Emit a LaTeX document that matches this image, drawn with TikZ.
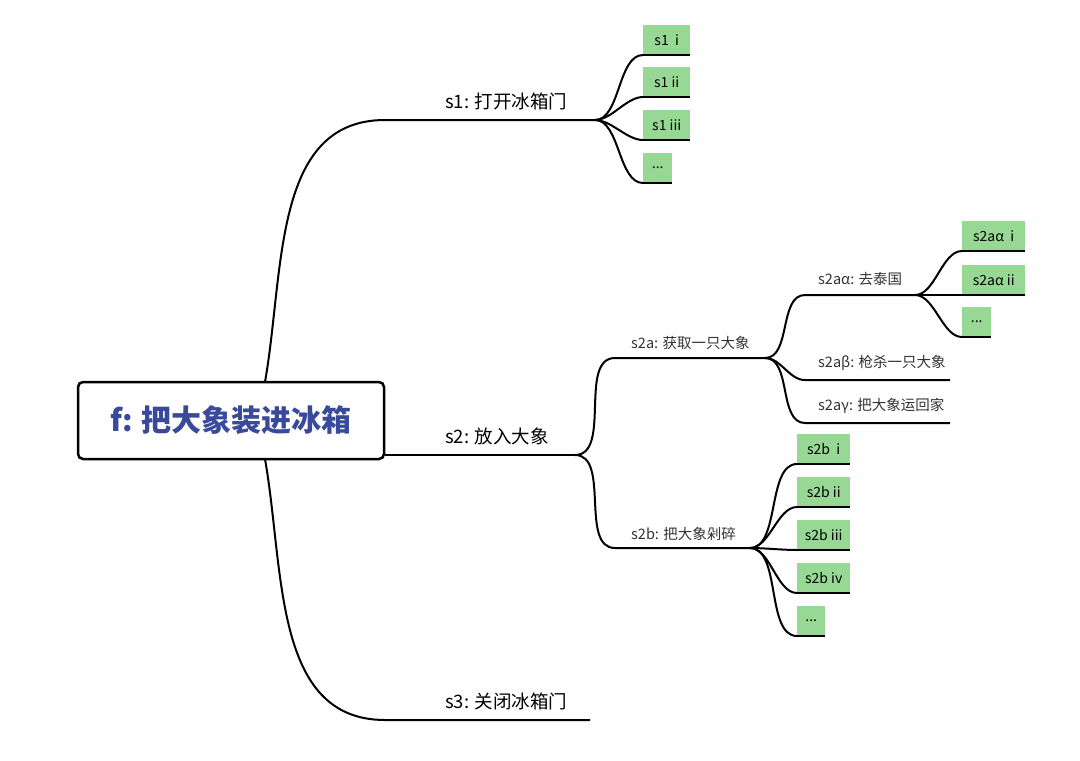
\documentclass[tikz,border=0pt]{standalone}
\usepackage{fontspec}
\setmainfont{Noto Sans CJK SC}
\newcommand{\mydots}{...}
\begin{document}
\begin{tikzpicture}[x=1pt,y=-1pt,
  ln/.style={line width=2pt,black},
  ed/.style={ln,out=0,in=180,looseness=0.9},
  lbl/.style={anchor=south west,inner sep=2pt,font=\fontsize{18.5}{18.5}\selectfont},
  sl/.style={anchor=south west,inner sep=2pt,font=\fontsize{14.5}{14.5}\selectfont,text=black!80},
  leaf/.style={anchor=south west,fill=lf,minimum height=30pt,inner sep=0pt,font=\fontsize{14}{14}\selectfont}]
\definecolor{lf}{HTML}{98D895}
\definecolor{rb}{HTML}{3A4A9A}
\useasboundingbox (0,0) rectangle (1080,761);
\node[draw,line width=2.5pt,rounded corners=5pt,minimum width=306pt,minimum height=77pt,text=rb,font=\fontsize{30}{30}\bfseries\selectfont] (f) at (231,420.5) {f: 把大象装进冰箱};
% level 1
\coordinate (s1a) at (385,120); \coordinate (s1e) at (595,120);
\coordinate (s2e) at (575,455);
\coordinate (s3a) at (385,720); \coordinate (s3e) at (590,720);
\draw[ln] (265,382) to[out=80,in=180] (s1a) -- (s1e);
\draw[ln] (f.east |- s2e) -- (s2e);
\draw[ln] (265,459) to[out=-80,in=180] (s3a) -- (s3e);
\node[lbl] (l1) at (443,112) {s1: 打开冰箱门};
\node[lbl] (l2) at (443,447) {s2: 放入大象};
\node[lbl] (l3) at (443,712) {s3: 关闭冰箱门};
% s1 leaves
\foreach \y/\t/\w [count=\i] in {55/s1 \ i/47,97/s1 ii/47,140/s1 iii/47,183/\mydots/29}{
  \node[leaf,minimum width=\w pt] (s1l\i) at (643,\y) {\t};
  \draw[ed,looseness=0.8] (s1e) to (s1l\i.south west);
  \draw[ln] (s1l\i.south west) -- (s1l\i.south east);
}
% s2a / s2b
\coordinate (s2a) at (765,358); \coordinate (s2b) at (750,548);
\draw[ed] (s2e) to (615,358) -- (s2a);
\draw[ed] (s2e) to (615,548) -- (s2b);
\node[sl] (l2a) at (629,352) {s2a: 获取一只大象};
\node[sl] (l2b) at (629,543) {s2b: 把大象剁碎};
% s2a children
\coordinate (aa) at (915,295);
\draw[ed] (s2a) to (805,295) -- (aa);
\draw[ed] (s2a) to (805,380) -- (950,380);
\draw[ed] (s2a) to (805,423) -- (950,423);
\node[sl] (laa) at (816,288) {s2aα: 去泰国};
\node[sl] (lab) at (816,373) {s2aβ: 枪杀一只大象};
\node[sl] (lac) at (816,416) {s2aγ: 把大象运回家};
\foreach \y/\t/\w [count=\i] in {251/s2aα \ i/63,295/s2aα ii/63,337/\mydots/29}{
  \node[leaf,minimum width=\w pt] (al\i) at (962,\y) {\t};
  \draw[ed,looseness=0.8] (aa) to (al\i.south west);
  \draw[ln] (al\i.south west) -- (al\i.south east);
}
\foreach \y/\t/\w [count=\i] in {464/s2b \ i/53,507/s2b ii/53,550/s2b iii/53,593/s2b iv/53,636/\mydots/28}{
  \node[leaf,minimum width=\w pt] (bl\i) at (797,\y) {\t};
  \draw[ed,looseness=0.8] (s2b) to (bl\i.south west);
  \draw[ln] (bl\i.south west) -- (bl\i.south east);
}
\end{tikzpicture}
\end{document}
